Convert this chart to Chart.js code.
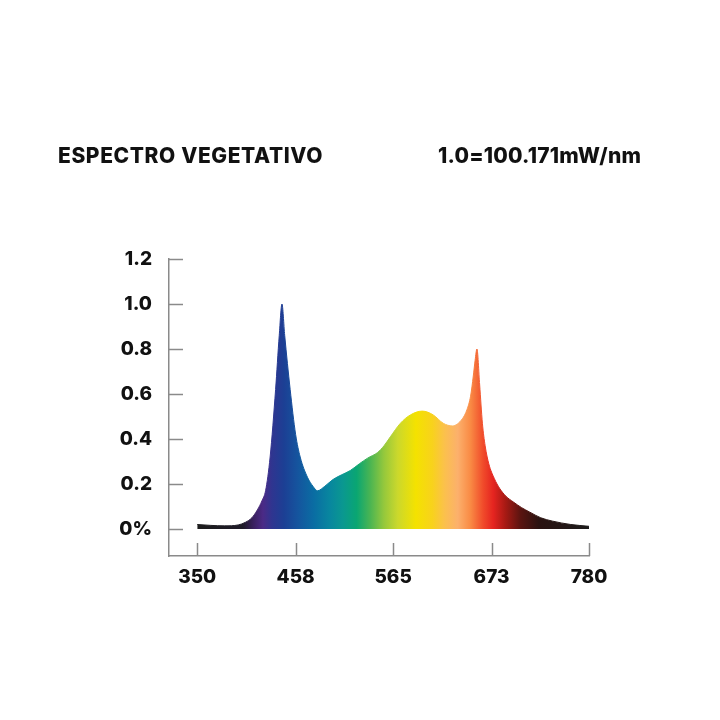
<!DOCTYPE html>
<html>
<head>
<meta charset="utf-8">
<script src="https://cdn.jsdelivr.net/npm/chart.js@4.4.1/dist/chart.umd.min.js"></script>
<style>
  html, body { margin: 0; padding: 0; background: #fff; }
  #wrap { position: relative; width: 720px; height: 720px; }
  #spectrum { position: absolute; left: 0; top: 0; }
  .head {
    position: absolute;
    font-family: Inter, "Open Sans", sans-serif;
    font-weight: 800;
    font-size: 21px;
    color: #111;
    white-space: nowrap;
    line-height: 1;
  }
  #title { left: 58px; top: 145px; letter-spacing: 0.6px; }
  #scale { left: 438px; top: 145px; letter-spacing: 0.2px; }
</style>
</head>
<body>
<div id="wrap">
  <canvas id="spectrum" width="720" height="720"></canvas>
  <div class="head" id="title">ESPECTRO VEGETATIVO</div>
  <div class="head" id="scale">1.0=100.171mW/nm</div>
</div>
<script>
// Data (wavelength in nm, relative intensity)
const wavelengths = [350, 365, 380, 395, 403, 410, 416, 421, 425, 430, 436, 440, 443, 446, 452, 458, 463, 471, 477, 482, 490, 499, 508, 518, 528, 537, 548, 555, 562, 573, 584, 597, 609, 620, 630, 641, 646, 650, 653, 655, 657, 660, 663, 666, 670, 676, 682, 689, 697, 706, 715, 727, 740, 760, 780];
const intensity   = [0.02, 0.016, 0.014, 0.018, 0.03, 0.05, 0.085, 0.125, 0.17, 0.32, 0.62, 0.86, 1.0, 0.86, 0.62, 0.42, 0.32, 0.23, 0.19, 0.17, 0.19, 0.22, 0.24, 0.26, 0.29, 0.315, 0.34, 0.37, 0.41, 0.47, 0.507, 0.524, 0.507, 0.47, 0.458, 0.49, 0.53, 0.59, 0.68, 0.75, 0.80, 0.64, 0.47, 0.37, 0.29, 0.225, 0.18, 0.145, 0.12, 0.095, 0.075, 0.05, 0.035, 0.02, 0.012];

const xTicks = [350, 458, 565, 673, 780];
const yTicks = [0, 0.2, 0.4, 0.6, 0.8, 1.0, 1.2];

// colour stops of the rainbow fill
const stopNm = [350, 400, 412, 422, 432, 445, 460, 478, 495, 510, 525, 540, 555, 570, 590, 608, 622, 636, 650, 664, 675, 688, 705, 725, 780];
const stopColors = ['#1c1c1c', '#1e1a28', '#3a2060', '#4b2a86', '#2f3590', '#1c3f94', '#15549e', '#0a6da3', '#08869f', '#0a9890', '#0aa672', '#4bb552', '#95c83c', '#cbd82c', '#f4e200', '#f8d21c', '#fbc04e', '#fcb06c', '#f98a44', '#f04a2a', '#e52420', '#a81a14', '#5a1410', '#2a1210', '#1c1c1c'];

const AXIS = '#8a8a8a';
const FONT = { family: 'Inter, "Open Sans", sans-serif', size: 19, weight: '800' };

function spectrumFill(context) {
    const chart = context.chart;
    const { chartArea, scales } = chart;
    if (!chartArea) return null;
    const x0 = scales.x.getPixelForValue(stopNm[0]);
    const x1 = scales.x.getPixelForValue(stopNm[stopNm.length - 1]);
    const g = chart.ctx.createLinearGradient(x0, 0, x1, 0);
    stopNm.forEach((nm, i) => {
        g.addColorStop((nm - stopNm[0]) / (stopNm[stopNm.length - 1] - stopNm[0]), stopColors[i]);
    });
    return g;
}

// short inward tick marks on both axes
const innerTicks = {
    id: 'innerTicks',
    afterDraw(chart) {
        const { ctx, chartArea, scales } = chart;
        ctx.save();
        ctx.strokeStyle = AXIS;
        ctx.lineWidth = 1.5;
        ctx.beginPath();
        yTicks.forEach(v => {
            const y = Math.round(scales.y.getPixelForValue(v)) + 0.5;
            ctx.moveTo(chartArea.left, y);
            ctx.lineTo(chartArea.left + 14, y);
        });
        xTicks.forEach(v => {
            const x = Math.round(scales.x.getPixelForValue(v)) + 0.5;
            ctx.moveTo(x, chartArea.bottom);
            ctx.lineTo(x, chartArea.bottom - 13);
        });
        ctx.stroke();
        ctx.restore();
    }
};

new Chart(document.getElementById('spectrum'), {
    type: 'line',
    data: {
        datasets: [{
            data: wavelengths.map((w, i) => ({ x: w, y: intensity[i] })),
            backgroundColor: spectrumFill,
            borderColor: spectrumFill,
            borderWidth: 1,
            pointRadius: 0,
            fill: 'origin',
            cubicInterpolationMode: 'monotone'
        }]
    },
    options: {
        responsive: false,
        animation: false,
        layout: { padding: { top: 259, right: 131, bottom: 0, left: 0 } },
        plugins: {
            legend: { display: false },
            tooltip: { enabled: false }
        },
        scales: {
            x: {
                type: 'linear',
                min: 319,
                max: 780,
                afterBuildTicks: s => { s.ticks = xTicks.map(v => ({ value: v })); },
                afterFit: s => { s.height = 164; },
                grid: { display: false, drawTicks: false },
                border: { display: true, color: AXIS, width: 1.5 },
                ticks: { color: '#111', font: FONT, padding: 10, maxRotation: 0, autoSkip: false }
            },
            y: {
                min: -0.12,
                max: 1.2,
                afterBuildTicks: s => { s.ticks = yTicks.map(v => ({ value: v })); },
                afterFit: s => { s.width = 169; },
                grid: { display: false, drawTicks: false },
                border: { display: true, color: AXIS, width: 1.5 },
                ticks: {
                    color: '#111',
                    font: FONT,
                    padding: 17,
                    callback: v => v === 0 ? '0%' : v.toFixed(1)
                }
            }
        }
    },
    plugins: [innerTicks]
});
</script>
</body>
</html>
